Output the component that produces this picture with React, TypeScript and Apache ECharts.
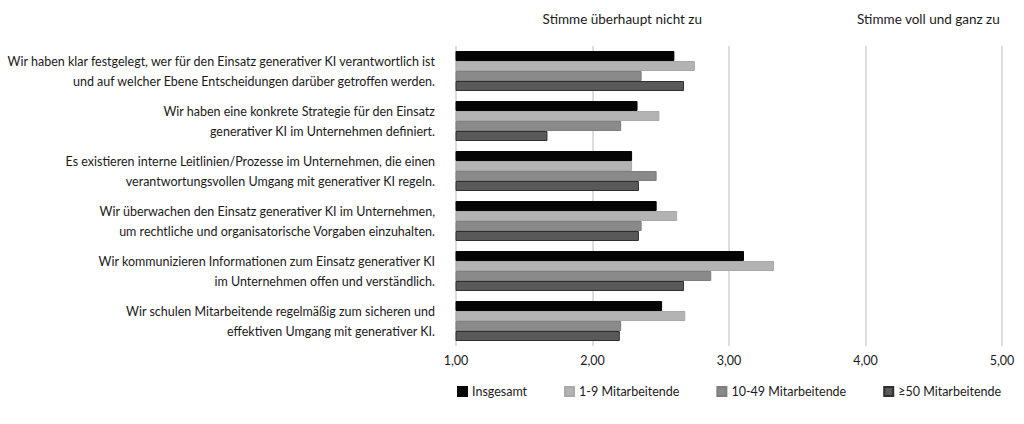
import { useEffect, useRef } from 'react';
import * as echarts from 'echarts';

const categories = [
  'Wir haben klar festgelegt, wer für den Einsatz generativer KI verantwortlich ist\nund auf welcher Ebene Entscheidungen darüber getroffen werden.',
  'Wir haben eine konkrete Strategie für den Einsatz\ngenerativer KI im Unternehmen definiert.',
  'Es existieren interne Leitlinien/Prozesse im Unternehmen, die einen\nverantwortungsvollen Umgang mit generativer KI regeln.',
  'Wir überwachen den Einsatz generativer KI im Unternehmen,\num rechtliche und organisatorische Vorgaben einzuhalten.',
  'Wir kommunizieren Informationen zum Einsatz generativer KI\nim Unternehmen offen und verständlich.',
  'Wir schulen Mitarbeitende regelmäßig zum sicheren und\neffektiven Umgang mit generativer KI.',
];

const seriesNames = ['Insgesamt', '1-9 Mitarbeitende', '10-49 Mitarbeitende', '≥50 Mitarbeitende'];

const insgesamt = [2.6, 2.33, 2.29, 2.47, 3.11, 2.51];
const klein = [2.75, 2.49, 2.29, 2.62, 3.33, 2.68];
const mittel = [2.36, 2.21, 2.47, 2.36, 2.87, 2.21];
const gross = [2.67, 1.67, 2.34, 2.34, 2.67, 2.2];

const scaleLabels = ['Stimme überhaupt nicht zu', 'Stimme voll und ganz zu'];

const colors = ['#050505', '#b3b3b3', '#8a8a8a', '#595959'];
const borders = ['#050505', '#a8a8a8', '#7e7e7e', '#2e2e2e'];

const FONT = 'Lato, sans-serif';

export default function App() {
  const ref = useRef<HTMLDivElement>(null);

  useEffect(() => {
    if (!ref.current) return;
    const chart = echarts.init(ref.current, undefined, { renderer: 'svg' });
    const values = [insgesamt, klein, mittel, gross];

    chart.setOption({
      animation: false,
      textStyle: { fontFamily: FONT },
      grid: { left: 456, right: 22, top: 46, height: 300 },
      legend: {
        data: seriesNames,
        left: 452,
        top: 380,
        itemWidth: 9,
        itemHeight: 9,
        itemGap: 37,
        icon: 'rect',
        textStyle: { fontSize: 12.5, color: '#1a1a1a', fontFamily: FONT },
      },
      graphic: [
        {
          type: 'text',
          right: 322,
          top: 12,
          style: { text: scaleLabels[0], fontSize: 13.5, fill: '#1a1a1a', fontFamily: FONT },
        },
        {
          type: 'text',
          right: 24,
          top: 12,
          style: { text: scaleLabels[1], fontSize: 13.5, fill: '#1a1a1a', fontFamily: FONT },
        },
      ],
      xAxis: {
        type: 'value',
        min: 1,
        max: 5,
        interval: 1,
        axisLine: { show: false },
        axisTick: { show: false },
        splitLine: { show: true, lineStyle: { color: '#d2d2d2', width: 1.5 } },
        axisLabel: {
          fontSize: 12.5,
          color: '#1a1a1a',
          margin: 8,
          formatter: (v: number) => v.toFixed(2).replace('.', ','),
        },
      },
      yAxis: {
        type: 'category',
        inverse: true,
        data: categories,
        axisLine: { show: false },
        axisTick: { show: false },
        axisLabel: {
          fontSize: 12.5,
          color: '#1a1a1a',
          lineHeight: 20,
          align: 'right',
          margin: 21,
        },
      },
      series: seriesNames.map((name, i) => ({
        name,
        type: 'bar',
        data: values[i],
        barGap: '0%',
        barCategoryGap: '20%',
        itemStyle: { color: colors[i], borderColor: borders[i], borderWidth: 1 },
      })),
    });

    return () => chart.dispose();
  }, []);

  return (
    <div
      ref={ref}
      style={{ position: 'fixed', left: 0, top: 0, width: 1024, height: 424, background: '#fff' }}
    />
  );
}
